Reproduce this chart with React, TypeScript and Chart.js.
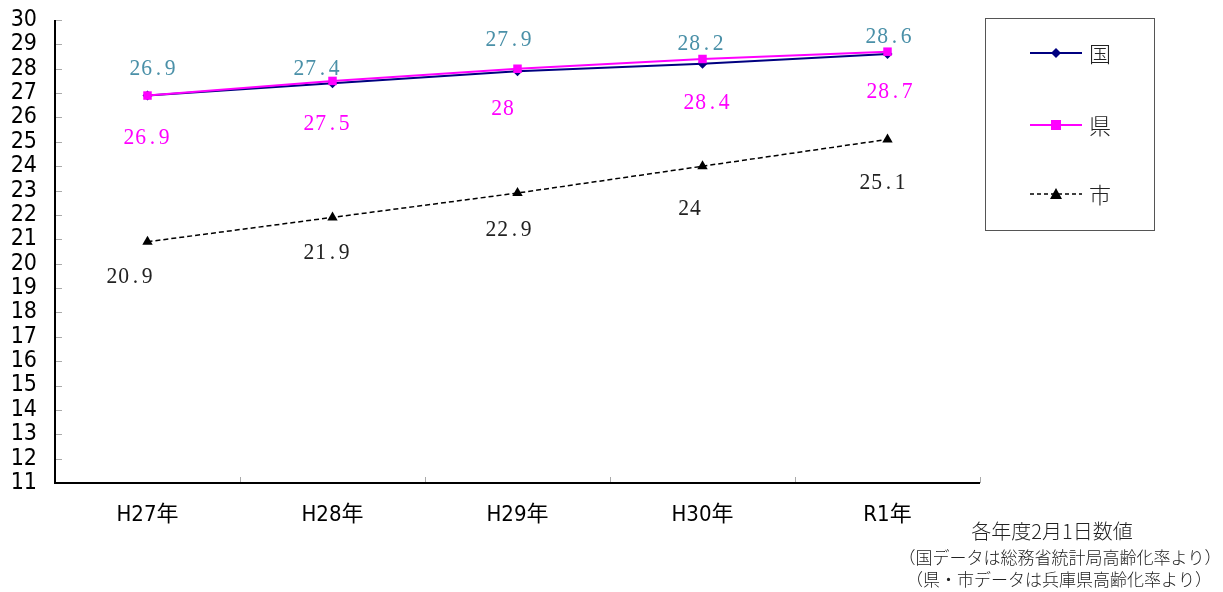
import React, { useEffect, useRef } from "react";
import { Chart, registerables } from "chart.js";

Chart.register(...registerables);

const categories = ["H27年", "H28年", "H29年", "H30年", "R1年"];
const kuniValues = [26.9, 27.4, 27.9, 28.2, 28.6];
const kenValues = [26.9, 27.5, 28, 28.4, 28.7];
const shiValues = [20.9, 21.9, 22.9, 24, 25.1];
const seriesNames = ["国", "県", "市"];
const yMin = 11;
const yMax = 30;
const noteLines = [
  "各年度2月1日数値",
  "（国データは総務省統計局高齢化率より）",
  "（県・市データは兵庫県高齢化率より）",
];

// label placement nudges (layout only)
const kuniNudge = [[5, -27], [-16, -15], [-9, -31], [-2, -20], [1, -17]];
const kenNudge = [[-1, 42], [-6, 43], [-15, 40], [4, 44], [2, 40]];
const shiNudge = [[-18, 35], [-6, 35], [-9, 37], [-13, 42], [-5, 43]];

const NAVY = "#000080";
const MAGENTA = "#FF00FF";
const TEAL = "#4A90A8";
const BLACK = "#000000";
const AXIS_FONT = "'Liberation Sans Narrow', 'DejaVu Sans Condensed', 'Noto Sans CJK JP', sans-serif";
const CJK_FONT = "'Noto Sans CJK JP', sans-serif";
const LABEL_FONT = "'Liberation Serif', 'DejaVu Serif', serif";

const fmt = (v: number) => String(v);

function drawMonoText(ctx: CanvasRenderingContext2D, text: string, cx: number, cy: number) {
  const cell = 11.75;
  const total = cell * text.length;
  let x = cx - total / 2 + cell / 2;
  for (const ch of text) {
    ctx.save();
    ctx.translate(x, cy);
    ctx.scale(0.9, 1);
    ctx.fillText(ch, 0, 0);
    ctx.restore();
    x += cell;
  }
}

const decorPlugin = {
  id: "decor",
  beforeDatasetsDraw(chart: any) {
    const ctx = chart.ctx;
    const area = chart.chartArea;
    const ys = chart.scales.y;
    ctx.save();
    ctx.strokeStyle = "#aaaaaa";
    ctx.lineWidth = 1;
    for (let v = yMin; v <= yMax; v++) {
      const y = Math.round(ys.getPixelForValue(v)) + 0.5;
      ctx.beginPath();
      ctx.moveTo(area.left, y);
      ctx.lineTo(area.left + 7, y);
      ctx.stroke();
    }
    const n = categories.length;
    for (let i = 0; i <= n; i++) {
      const x = Math.round(area.left + ((area.right - area.left) * i) / n) + 0.5;
      ctx.beginPath();
      ctx.moveTo(x, area.bottom);
      ctx.lineTo(x, area.bottom - 6);
      ctx.stroke();
    }
    // axes
    ctx.strokeStyle = BLACK;
    ctx.lineWidth = 2;
    ctx.beginPath();
    ctx.moveTo(Math.round(area.left), Math.round(area.top));
    ctx.lineTo(Math.round(area.left), Math.round(area.bottom));
    ctx.lineTo(Math.round(area.right), Math.round(area.bottom));
    ctx.stroke();
    ctx.restore();
  },
  afterDatasetsDraw(chart: any) {
    const ctx = chart.ctx;
    ctx.save();
    // data labels
    const groups = [
      { idx: 0, vals: kuniValues, nudge: kuniNudge, color: TEAL },
      { idx: 1, vals: kenValues, nudge: kenNudge, color: MAGENTA },
      { idx: 2, vals: shiValues, nudge: shiNudge, color: "#222222" },
    ];
    ctx.font = "24px " + LABEL_FONT;
    ctx.textAlign = "center";
    ctx.textBaseline = "middle";
    groups.forEach((g) => {
      const meta = chart.getDatasetMeta(g.idx);
      meta.data.forEach((pt: any, i: number) => {
        ctx.fillStyle = g.color;
        drawMonoText(ctx, fmt(g.vals[i]), pt.x + g.nudge[i][0], pt.y + g.nudge[i][1]);
      });
    });

    // legend box
    const bx = 985.5, by = 18.5, bw = 169, bh = 212;
    ctx.strokeStyle = "#555555";
    ctx.lineWidth = 1;
    ctx.strokeRect(bx, by, bw, bh);
    const rows = [53, 125, 194];
    const colors = [NAVY, MAGENTA, BLACK];
    rows.forEach((ry, k) => {
      ctx.save();
      ctx.strokeStyle = colors[k];
      ctx.lineWidth = k === 2 ? 1.5 : 2;
      if (k === 2) ctx.setLineDash([4, 3]);
      ctx.beginPath();
      ctx.moveTo(1030, ry);
      ctx.lineTo(1082, ry);
      ctx.stroke();
      ctx.restore();
      ctx.fillStyle = colors[k];
      const cx = 1056;
      ctx.beginPath();
      if (k === 0) {
        ctx.moveTo(cx, ry - 5);
        ctx.lineTo(cx + 5, ry);
        ctx.lineTo(cx, ry + 5);
        ctx.lineTo(cx - 5, ry);
        ctx.closePath();
      } else if (k === 1) {
        ctx.rect(cx - 5, ry - 5, 10, 10);
      } else {
        ctx.moveTo(cx, ry - 6);
        ctx.lineTo(cx + 6, ry + 5);
        ctx.lineTo(cx - 6, ry + 5);
        ctx.closePath();
      }
      ctx.fill();
      ctx.fillStyle = "#222222";
      ctx.font = "300 22px " + CJK_FONT;
      ctx.textAlign = "left";
      ctx.textBaseline = "middle";
      ctx.fillText(seriesNames[k], 1089, ry + 1);
    });

    // notes
    ctx.fillStyle = "#222222";
    ctx.textAlign = "center";
    ctx.textBaseline = "middle";
    ctx.font = "300 20px " + CJK_FONT;
    ctx.fillText(noteLines[0], 1052, 531);
    ctx.font = "300 17px " + CJK_FONT;
    ctx.fillText(noteLines[1], 1060, 558);
    ctx.fillText(noteLines[2], 1059, 580);
    ctx.restore();
  },
};

export default function App() {
  const ref = useRef<HTMLCanvasElement | null>(null);
  useEffect(() => {
    if (!ref.current) return;
    const chart = new Chart(ref.current, {
      type: "line",
      data: {
        labels: categories,
        datasets: [
          {
            label: seriesNames[0],
            data: kuniValues,
            borderColor: NAVY,
            backgroundColor: NAVY,
            borderWidth: 2,
            pointStyle: "rectRot",
            pointRadius: 5,
            pointBorderWidth: 0,
            order: 2,
          },
          {
            label: seriesNames[1],
            data: kenValues,
            borderColor: MAGENTA,
            backgroundColor: MAGENTA,
            borderWidth: 2,
            pointStyle: "rect",
            pointRadius: 6,
            pointBorderWidth: 0,
            order: 1,
          },
          {
            label: seriesNames[2],
            data: shiValues,
            borderColor: BLACK,
            backgroundColor: BLACK,
            borderWidth: 1.5,
            borderDash: [5, 3],
            pointStyle: "triangle",
            pointRadius: 6,
            pointBorderWidth: 0,
            order: 0,
          },
        ],
      },
      options: {
        animation: false,
        responsive: true,
        maintainAspectRatio: false,
        layout: { padding: { top: 20, right: 243, left: 0, bottom: 0 } },
        plugins: { legend: { display: false }, tooltip: { enabled: false } },
        scales: {
          x: {
            offset: true,
            grid: { display: false, drawTicks: false },
            border: { display: false },
            ticks: {
              color: "#000000",
              font: { family: AXIS_FONT, size: 22 },
              padding: 19,
              maxRotation: 0,
            },
            afterFit: (s: any) => {
              s.height = 109;
              s.paddingLeft = 0;
              s.paddingRight = 0;
            },
          },
          y: {
            min: yMin,
            max: yMax,
            grid: { display: false, drawTicks: false },
            border: { display: false },
            ticks: {
              stepSize: 1,
              autoSkip: false,
              color: "#000000",
              font: { family: AXIS_FONT, size: 23 },
              padding: 18,
            },
            afterFit: (s: any) => {
              s.width = 55;
              s.paddingTop = 0;
              s.paddingBottom = 0;
            },
          },
        },
      },
      plugins: [decorPlugin],
    });
    return () => chart.destroy();
  }, []);
  return (
    <div style={{ position: "fixed", left: 0, top: 0, width: 1223, height: 592, background: "#fff" }}>
      <canvas ref={ref} />
    </div>
  );
}
